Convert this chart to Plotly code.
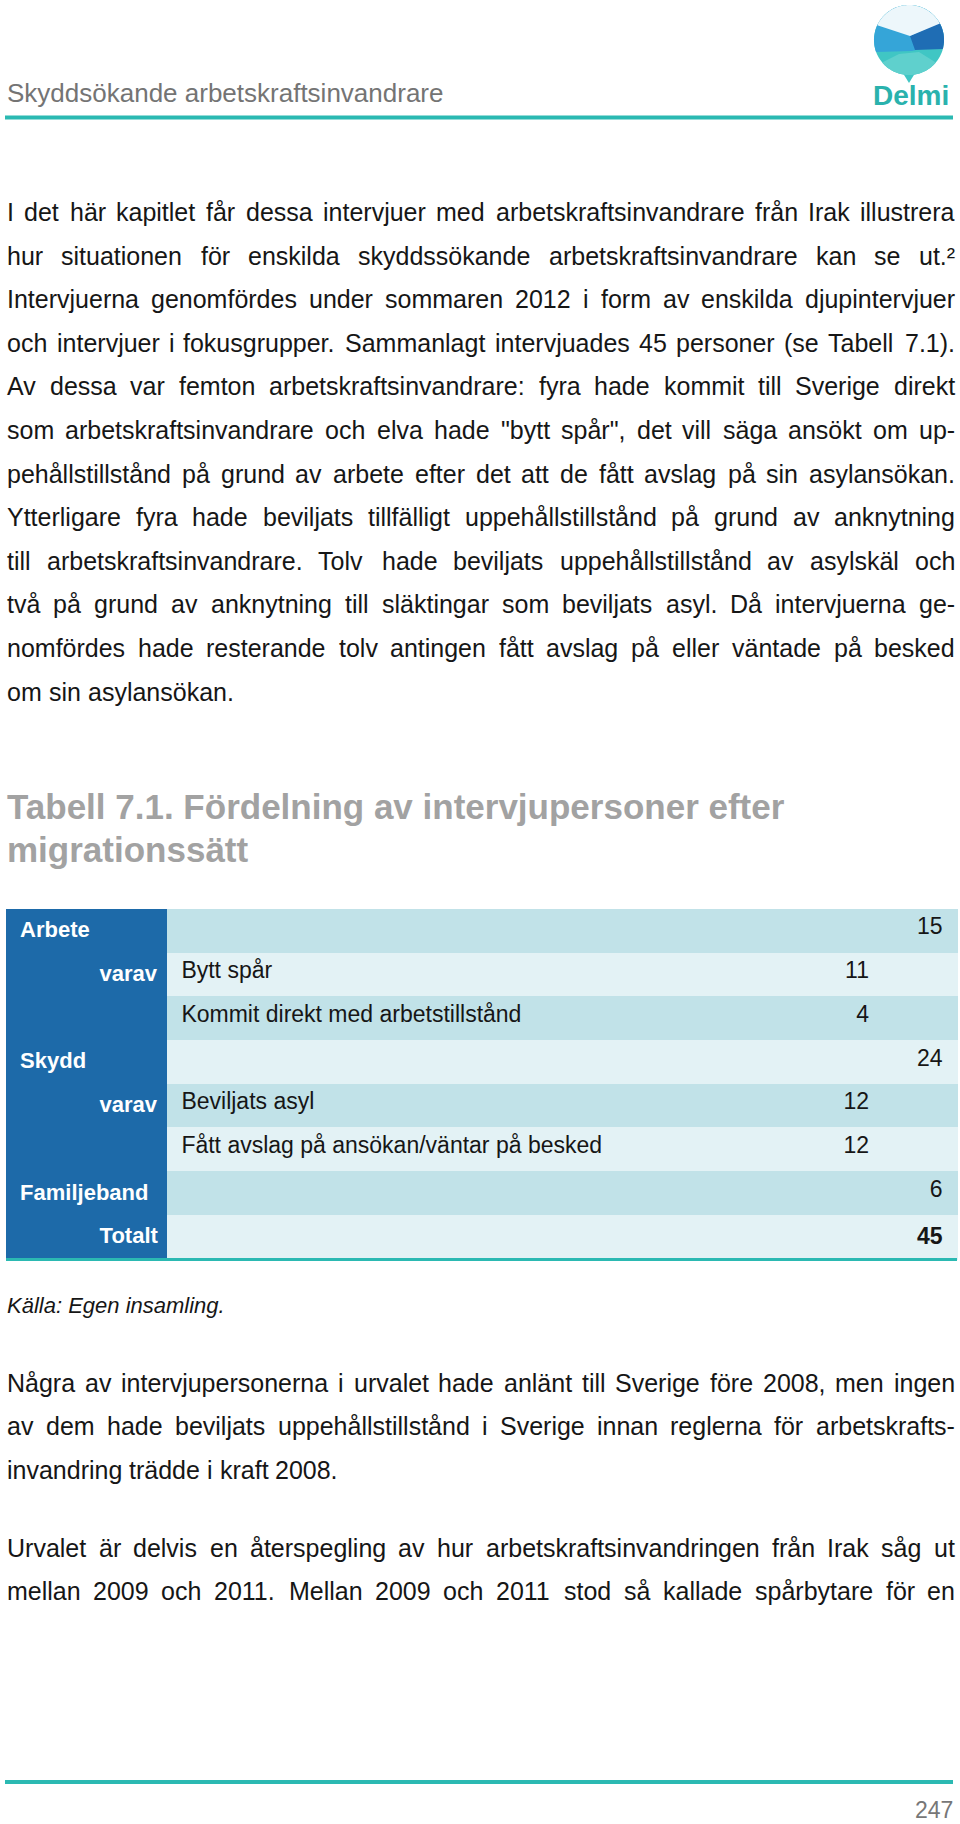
import numpy as np
import plotly.graph_objects as go

# ---------------- content ----------------
RUNNING_HEAD = "Skyddsökande arbetskraftsinvandrare"
LOGO_TEXT = "Delmi"
PAGE_NUMBER = "247"

PARAGRAPH_1 = [
    "I det här kapitlet får dessa intervjuer med arbetskraftsinvandrare från Irak illustrera",
    "hur situationen för enskilda skyddssökande arbetskraftsinvandrare kan se ut.²",
    "Intervjuerna genomfördes under sommaren 2012 i form av enskilda djupintervjuer",
    "och intervjuer i fokusgrupper. Sammanlagt intervjuades 45 personer (se Tabell 7.1).",
    "Av dessa var femton arbetskraftsinvandrare: fyra hade kommit till Sverige direkt",
    "som arbetskraftsinvandrare och elva hade \"bytt spår\", det vill säga ansökt om up-",
    "pehållstillstånd på grund av arbete efter det att de fått avslag på sin asylansökan.",
    "Ytterligare fyra hade beviljats tillfälligt uppehållstillstånd på grund av anknytning",
    "till arbetskraftsinvandrare. Tolv hade beviljats uppehållstillstånd av asylskäl och",
    "två på grund av anknytning till släktingar som beviljats asyl. Då intervjuerna ge-",
    "nomfördes hade resterande tolv antingen fått avslag på eller väntade på besked",
    "om sin asylansökan.",
]
PARAGRAPH_2 = [
    "Några av intervjupersonerna i urvalet hade anlänt till Sverige före 2008, men ingen",
    "av dem hade beviljats uppehållstillstånd i Sverige innan reglerna för arbetskrafts-",
    "invandring trädde i kraft 2008.",
]
# continues on the next page, so every line is justified
PARAGRAPH_3 = [
    "Urvalet är delvis en återspegling av hur arbetskraftsinvandringen från Irak såg ut",
    "mellan 2009 och 2011. Mellan 2009 och 2011 stod så kallade spårbytare för en",
]

TABLE_TITLE = ["Tabell 7.1. Fördelning av intervjupersoner efter", "migrationssätt"]
GROUP_LABELS = ["Arbete", "varav", "", "Skydd", "varav", "", "Familjeband", "Totalt"]
GROUP_RIGHT = [False, True, False, False, True, False, False, True]
SUB_LABELS = ["", "Bytt spår", "Kommit direkt med arbetstillstånd", "",
              "Beviljats asyl", "Fått avslag på ansökan/väntar på besked", "", ""]
SUB_VALUES = [None, 11, 4, None, 12, 12, None, None]
GROUP_VALUES = [15, None, None, 24, None, None, 6, 45]
SOURCE_NOTE = "Källa: Egen insamling."

# ---------------- style ----------------
PAGE_W, PAGE_H = 960, 1824
FONT = "Liberation Sans, Arial, sans-serif"
TEAL = "#2bb9b2"
BLUE = "#1d6aa9"
ROW_DARK = "#c1e2e8"
ROW_LIGHT = "#e3f2f5"
TEXT = "#161616"
GREY = "#a2a2a2"
X_L, X_R = 7, 955
BODY_SIZE = 25
LINE_STEP = 43.6

# Arial / Liberation Sans advance widths (1/1000 em)
W = {" ": 278, ".": 278, ",": 278, ":": 278, "(": 333, ")": 333, "-": 333, "\"": 355,
     "²": 333, "/": 278}
for ch in "0123456789":
    W[ch] = 556
W.update(dict(zip("abcdefghijklmnopqrstuvwxyz",
                  [556, 556, 500, 556, 556, 278, 556, 556, 222, 222, 500, 222, 833,
                   556, 556, 556, 556, 333, 500, 278, 556, 500, 722, 500, 500, 500])))
W.update(dict(zip("ABCDEFGHIJKLMNOPQRSTUVWXYZ",
                  [667, 667, 722, 722, 667, 611, 778, 722, 278, 500, 667, 556, 833,
                   722, 778, 667, 778, 722, 667, 611, 722, 667, 944, 667, 667, 611])))
for ch in "åäö":
    W[ch] = 556
W["Å"] = 667
W["Ä"] = 667
W["Ö"] = 778
# Arial Bold widths for the few glyphs needed in the table's first column
WB = {" ": 278, "v": 556, "a": 556, "r": 389, "T": 611, "o": 611, "t": 333, "l": 278}


def word_width(w, size):
    return sum(W.get(c, 556) for c in w) / 1000.0 * size


annotations = []


def ann(text, x, y, size, color=TEXT, xanchor="left", bold=False, italic=False, family=FONT):
    t = text
    if bold:
        t = "<b>" + t + "</b>"
    if italic:
        t = "<i>" + t + "</i>"
    annotations.append(dict(text=t, x=x, y=y, xref="x", yref="y", showarrow=False,
                            xanchor=xanchor, yanchor="middle",
                            font=dict(family=family, size=size, color=color)))


def text_line(line, baseline, justify, size=BODY_SIZE):
    words = line.split(" ")
    widths = [word_width(w, size) for w in words]
    yc = baseline - 0.3465 * size
    if justify and len(words) > 1:
        gap = (X_R - X_L - sum(widths)) / (len(words) - 1)
    else:
        gap = W[" "] / 1000.0 * size
    x = X_L
    for i, (w, ww) in enumerate(zip(words, widths)):
        if justify and i == len(words) - 1 and len(words) > 1:
            ann(w, X_R + 2, yc, size, xanchor="right")
        else:
            ann(w, x - 2, yc, size)
        x += ww + gap


def paragraph(lines, first_baseline, last_justified=False):
    for k, line in enumerate(lines):
        just = (k < len(lines) - 1) or last_justified
        text_line(line, first_baseline + k * LINE_STEP, justify=just)


paragraph(PARAGRAPH_1, 220.7)
paragraph(PARAGRAPH_2, 1391.5)
paragraph(PARAGRAPH_3, 1556.5, last_justified=True)

# running head, title, source, page number
ann(RUNNING_HEAD, X_L - 2, 102 - 0.3465 * 26, 26, color="#747474")
ann(TABLE_TITLE[0], X_L - 2, 819 - 0.3465 * 35, 35, color=GREY, bold=True)
ann(TABLE_TITLE[1], X_L - 2, 862 - 0.3465 * 35, 35, color=GREY, bold=True)
ann(SOURCE_NOTE, X_L - 2, 1313 - 0.3465 * 22, 22, italic=True)
ann(PAGE_NUMBER, 955, 1810, 23, color="#777777", xanchor="right")
ann(LOGO_TEXT, 911, 95, 28, color="#2ab2ad", xanchor="center", bold=True)

# ---------------- table ----------------
TABLE_X0, TABLE_X1 = 6, 957
COL_W = [161, 533, 177, 80]
CELL_PAD = 8
G_SIZE = 22


def fmt(v):
    return "" if v is None else str(v)


def group_cell(label, right):
    if not label:
        return ""
    if right:
        wpx = sum(WB.get(c, 556) for c in label) / 1000.0 * G_SIZE
        room = (COL_W[0] - 2 * CELL_PAD) - wpx - 1
        n = max(0, int(round(room / (WB[" "] / 1000.0 * G_SIZE))))
        return "<b>" + "\u00a0" * n + label + "</b>"
    return "<b>\u00a0" + label + "</b>"


col0 = [group_cell(g, r) for g, r in zip(GROUP_LABELS, GROUP_RIGHT)]
col1 = ["\u00a0" + s if s else "" for s in SUB_LABELS]
col2 = [fmt(v) for v in SUB_VALUES]
col3 = [fmt(v) + "\u00a0" if v is not None else "" for v in GROUP_VALUES]
col3[-1] = "<b>" + col3[-1] + "</b>"

n_rows = len(GROUP_LABELS)
row_fill = [ROW_DARK if i % 2 == 0 else ROW_LIGHT for i in range(n_rows)]
fills = [[BLUE] * n_rows, row_fill, row_fill, row_fill]
cols = [col0, col1, col2, col3]
aligns = ["left", "left", "right", "right"]
fsizes = [G_SIZE, 23, 23, 23]
fcolors = ["white", TEXT, TEXT, TEXT]

ROW_H = 43.75
TABLE_TOP = 909
table = go.Table(
    domain=dict(x=[TABLE_X0 / PAGE_W, TABLE_X1 / PAGE_W],
                y=[(PAGE_H - 1300) / PAGE_H, (PAGE_H - TABLE_TOP) / PAGE_H]),
    columnwidth=COL_W,
    header=dict(
        values=[c[0] for c in cols],
        fill=dict(color=[f[0] for f in fills]),
        line=dict(color=[f[0] for f in fills], width=1),
        align=aligns,
        font=dict(family=FONT, size=fsizes, color=fcolors),
        height=ROW_H,
    ),
    cells=dict(
        values=[c[1:] for c in cols],
        fill=dict(color=[f[1:] for f in fills]),
        line=dict(color=[f[1:] for f in fills], width=1),
        align=aligns,
        font=dict(family=FONT, size=fsizes, color=fcolors),
        height=ROW_H,
    ),
)

fig = go.Figure(table)

# ---------------- decorative shapes ----------------
shapes = []
for yv, x0, x1, wdt in [(117.5, 5, 953, 4), (1259.5, 6, 957, 3), (1782, 5, 953, 4)]:
    shapes.append(dict(type="line", xref="x", yref="y", x0=x0, x1=x1, y0=yv, y1=yv,
                       line=dict(color=TEAL, width=wdt)))

# logo
cx, cy, r = 909, 40, 35


def arc(a0, a1, n=50):
    t = np.radians(np.linspace(a0, a1, n))
    return list(zip(cx + r * np.cos(t), cy - r * np.sin(t)))


def path(pts):
    return "M " + " L ".join(f"{x:.1f},{y:.1f}" for x, y in pts) + " Z"


def logo_part(pts, color):
    shapes.append(dict(type="path", xref="x", yref="y", layer="above", path=path(pts),
                       fillcolor=color, line=dict(width=0)))


logo_part([(cx - 8, cy + r - 5), (cx + 8, cy + r - 5), (cx, cy + r + 8)], "#40c6c4")
logo_part(arc(0, 360, 100), "#40c6c4")
logo_part(arc(-40, -140) + [(cx - 10, cy + 14), (cx + 10, cy + 12)], "#5fd0cd")
logo_part(arc(200, -5) + [(cx + 3, cy + 11)], "#35a5d8")
logo_part(arc(30, -15) + [(cx + 6, cy + 10), (cx + 1, cy - 4)], "#1f6db4")
logo_part(arc(155, 28) + [(cx + 1, cy - 4)], "#edf7fb")

fig.update_layout(
    width=PAGE_W, height=PAGE_H, autosize=False,
    margin=dict(l=0, r=0, t=0, b=0, pad=0),
    paper_bgcolor="white", plot_bgcolor="white",
    xaxis=dict(range=[0, PAGE_W], visible=False, fixedrange=True),
    yaxis=dict(range=[PAGE_H, 0], visible=False, fixedrange=True),
    showlegend=False,
    annotations=annotations,
    shapes=shapes,
)

fig.write_html(
    "out.html",
    config={"displayModeBar": False},
    post_script="document.body.style.margin='0';"
                "document.documentElement.style.overflow='hidden';"
                "document.body.style.overflow='hidden';",
)
